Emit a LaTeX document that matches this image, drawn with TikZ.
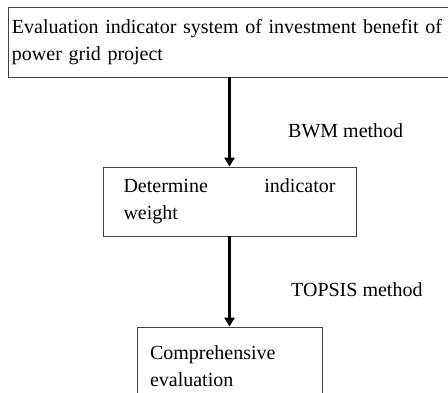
\documentclass[tikz,border=0pt]{standalone}
\usepackage{fontspec}
\setmainfont{Liberation Serif}
\usetikzlibrary{arrows.meta}
\begin{document}
\begin{tikzpicture}[x=1pt,y=-1pt,
  box/.style={draw=black!75, line width=0.8pt, rectangle, inner xsep=4pt, inner ysep=0pt,
    font=\fontsize{20}{27}\selectfont},
  lbl/.style={font=\fontsize{20}{27}\selectfont, anchor=base west, inner sep=0pt},
  flow/.style={line width=2.6pt, -{Triangle[length=9pt,width=10pt]}}]
\clip (0,0) rectangle (448,392);
\useasboundingbox (0,0) rectangle (448,392);
\node[box, minimum width=462pt, minimum height=70pt, text width=454pt, align=left] (sys) at (239,42)
  {Evaluation indicator system of investment benefit of power grid project};
\node[box, minimum width=253pt, minimum height=69pt, text width=212pt, align=justify] (wt) at (229.5,201.5)
  {Determine indicator weight};
\node[box, minimum width=185pt, minimum height=78pt, text width=159pt, align=left] (ce) at (229.5,366)
  {Comprehensive evaluation};
\draw[flow] (sys.south -| 229.5,0) -- (wt.north -| 229.5,0);
\draw[flow] (wt.south -| 229.5,0) -- (ce.north -| 229.5,0);
\node[lbl] (bwm) at (288,137) {BWM method};
\node[lbl] (top) at (291,296) {TOPSIS method};
\end{tikzpicture}
\end{document}
